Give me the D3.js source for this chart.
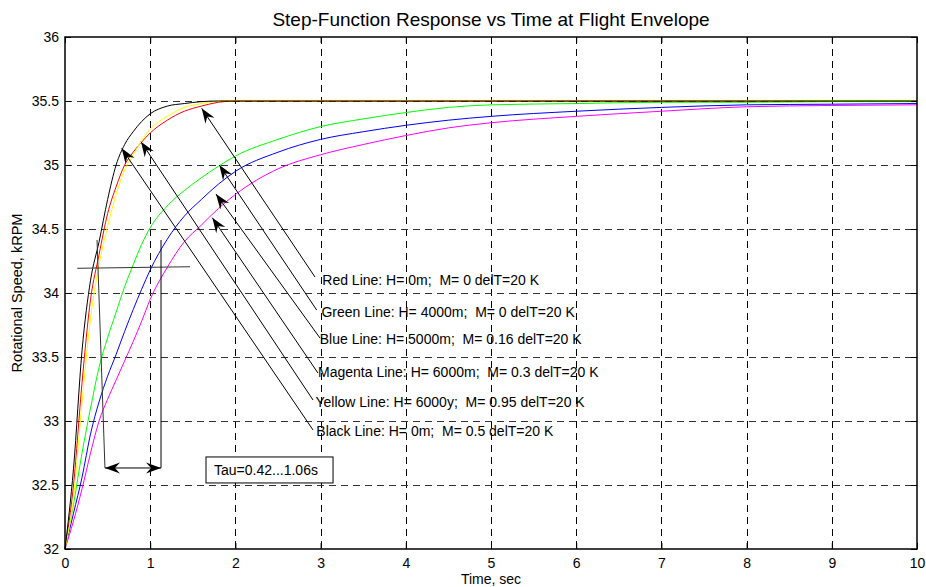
<!DOCTYPE html>
<html lang="en">
<head>
<meta charset="UTF-8">
<title>Step-Function Response</title>
<script src="https://cdn.jsdelivr.net/npm/d3@7"></script>
<style>
  body { margin: 0; background: #fff; }
  text { font-family: "Liberation Sans", Arial, sans-serif; }
</style>
</head>
<body>
<div id="chart"></div>
<script>
// time samples (sec)
var timeSec = [0, 0.1, 0.2, 0.3, 0.4, 0.5, 0.6, 0.7, 0.8, 0.9, 1.0, 1.2, 1.4, 1.6, 1.8, 2.0,
               2.5, 3, 3.5, 4, 4.5, 5, 6, 7, 8, 9, 10];

// rotational speed, kRPM
var redLine     = [32, 32.5, 33.3, 33.95, 34.3, 34.62, 34.83, 35.0, 35.1, 35.18, 35.25, 35.35, 35.42, 35.46, 35.49, 35.5,
                   35.5, 35.5, 35.5, 35.5, 35.5, 35.5, 35.5, 35.5, 35.5, 35.5, 35.5];
var greenLine   = [32, 32.35, 32.75, 33.1, 33.42, 33.65, 33.85, 34.05, 34.22, 34.38, 34.51, 34.68, 34.8, 34.9, 34.99, 35.07,
                   35.2, 35.3, 35.36, 35.41, 35.45, 35.47, 35.48, 35.49, 35.49, 35.495, 35.495];
var blueLine    = [32, 32.28, 32.56, 32.9, 33.15, 33.35, 33.52, 33.7, 33.87, 34.03, 34.18, 34.42, 34.6, 34.73, 34.85, 34.95,
                   35.1, 35.2, 35.26, 35.31, 35.35, 35.38, 35.42, 35.45, 35.47, 35.475, 35.48];
var magentaLine = [32, 32.22, 32.47, 32.75, 33.0, 33.17, 33.32, 33.47, 33.62, 33.78, 33.95, 34.2, 34.4, 34.53, 34.66, 34.77,
                   34.97, 35.08, 35.16, 35.23, 35.29, 35.33, 35.38, 35.42, 35.455, 35.465, 35.47];
var yellowLine  = [32, 32.4, 33.15, 33.8, 34.22, 34.52, 34.77, 34.96, 35.08, 35.19, 35.28, 35.38, 35.45, 35.48, 35.5, 35.505,
                   35.505, 35.505, 35.505, 35.505, 35.505, 35.505, 35.505, 35.505, 35.505, 35.505, 35.505];
var blackLine   = [32, 32.63, 33.55, 34.1, 34.4, 34.73, 35.0, 35.16, 35.26, 35.34, 35.4, 35.46, 35.48, 35.495, 35.5, 35.5,
                   35.5, 35.5, 35.5, 35.5, 35.5, 35.5, 35.5, 35.5, 35.5, 35.5, 35.5];

var seriesNames  = ["Red", "Green", "Blue", "Magenta", "Yellow", "Black"];
var seriesValues = [redLine, greenLine, blueLine, magentaLine, yellowLine, blackLine];
var seriesColors = ["#ff0000", "#00ff00", "#0000ff", "#ff00ff", "#ffff00", "#000000"];

var xTicks = [0, 1, 2, 3, 4, 5, 6, 7, 8, 9, 10];
var yTicks = [32, 32.5, 33, 33.5, 34, 34.5, 35, 35.5, 36];

// annotation labels and arrows (data units)
var labelTexts = [
    "Red Line: H= 0m;  M= 0 delT=20 K",
    "Green Line: H= 4000m;  M= 0 delT=20 K",
    "Blue Line: H= 5000m;  M= 0.16 delT=20 K",
    "Magenta Line: H= 6000m;  M= 0.3 delT=20 K",
    "Yellow Line: H= 6000y;  M= 0.95 delT=20 K",
    "Black Line: H= 0m;  M= 0.5 delT=20 K"
];
var labelPos  = [[3.02, 34.06], [3.01, 33.81], [2.99, 33.60], [2.97, 33.34], [2.94, 33.11], [2.95, 32.88]];
var arrowTail = [[2.934, 34.125], [2.954, 33.867], [2.993, 33.648], [2.969, 33.375], [2.911, 33.164], [2.911, 32.930]];
var arrowTip  = [[1.604, 35.443], [1.811, 35.0], [1.772, 34.773], [1.729, 34.588], [0.892, 35.182], [0.665, 35.13]];

// tau marker
var tauHLine  = [[0.144, 34.193], [1.467, 34.205]];
var tauLeft   = [[0.376, 34.414], [0.469, 32.633]];
var tauRight  = [[1.127, 34.414], [1.127, 32.633]];
var tauArrow  = [[0.469, 32.633], [1.127, 32.633]];
var tauBox    = [[1.655, 32.719], [3.146, 32.516]];
var tauText   = "Tau=0.42...1.06s";

var width = 926, height = 587;
var margin = {top: 37, right: 9, bottom: 38, left: 65};

var svg = d3.select("#chart").append("svg")
    .attr("width", width)
    .attr("height", height);

var x = d3.scaleLinear().domain([0, 10]).range([margin.left, width - margin.right]);
var y = d3.scaleLinear().domain([32, 36]).range([height - margin.bottom, margin.top]);

var x0 = x(0), x1 = x(10), y0 = y(32), y1 = y(36);

// grid
var grid = svg.append("g");
grid.selectAll(".gx")
    .data(xTicks.slice(1, -1))
    .enter().append("line")
    .attr("x1", function(d){ return Math.round(x(d)) + 0.5; })
    .attr("x2", function(d){ return Math.round(x(d)) + 0.5; })
    .attr("y1", y1).attr("y2", y0)
    .attr("stroke", "#000").attr("stroke-width", 1)
    .attr("stroke-dasharray", "7,5");
grid.selectAll(".gy")
    .data(yTicks.slice(1, -1))
    .enter().append("line")
    .attr("x1", x0).attr("x2", x1)
    .attr("y1", function(d){ return Math.round(y(d)) + 0.5; })
    .attr("y2", function(d){ return Math.round(y(d)) + 0.5; })
    .attr("stroke", "#333").attr("stroke-width", 1)
    .attr("stroke-dasharray", "7,5");

// curves
var line = d3.line()
    .x(function(d){ return x(d[0]); })
    .y(function(d){ return y(d[1]); })
    .curve(d3.curveMonotoneX);

svg.append("g").selectAll("path")
    .data(seriesValues)
    .enter().append("path")
    .attr("d", function(vals){
        return line(vals.map(function(v, i){ return [timeSec[i], v]; }));
    })
    .attr("fill", "none")
    .attr("stroke", function(d, i){ return seriesColors[i]; })
    .attr("stroke-width", 1);

// axes (MATLAB style: ticks inside, box)
var fmt = function(d){ return String(d); };
var xAxis = d3.axisBottom(x).tickValues(xTicks).tickSize(-6).tickPadding(9).tickFormat(fmt);
var yAxis = d3.axisLeft(y).tickValues(yTicks).tickSize(-6).tickPadding(6).tickFormat(fmt);
var xAxisTop = d3.axisTop(x).tickValues(xTicks).tickSize(-6).tickFormat("");
var yAxisRight = d3.axisRight(y).tickValues(yTicks).tickSize(-6).tickFormat("");

function styleAxis(g) {
    g.select(".domain").remove();
    g.selectAll("line").attr("stroke", "#000");
    g.selectAll("text").attr("font-size", 14).attr("fill", "#000")
        .attr("font-family", "'Liberation Sans', Arial, sans-serif");
}
svg.append("g").attr("transform", "translate(0," + y0 + ")").call(xAxis).call(styleAxis);
svg.append("g").attr("transform", "translate(" + x0 + ",0)").call(yAxis).call(styleAxis);
svg.append("g").attr("transform", "translate(0," + y1 + ")").call(xAxisTop).call(styleAxis);
svg.append("g").attr("transform", "translate(" + x1 + ",0)").call(yAxisRight).call(styleAxis);

svg.append("rect")
    .attr("x", x0).attr("y", y1)
    .attr("width", x1 - x0).attr("height", y0 - y1)
    .attr("fill", "none").attr("stroke", "#000").attr("stroke-width", 1.5);

// arrows
var ann = svg.append("g");
function arrowHead(tip, tail) {
    var px = x(tip[0]), py = y(tip[1]);
    var ang = Math.atan2(py - y(tail[1]), px - x(tail[0])) * 180 / Math.PI;
    ann.append("path")
        .attr("d", "M0,0 L-15,-5.5 L-10,0 L-15,5.5 Z")
        .attr("transform", "translate(" + px + "," + py + ") rotate(" + ang + ")")
        .attr("fill", "#000");
}
arrowTail.forEach(function(t, i){
    ann.append("line")
        .attr("x1", x(t[0])).attr("y1", y(t[1]))
        .attr("x2", x(arrowTip[i][0])).attr("y2", y(arrowTip[i][1]))
        .attr("stroke", "#000").attr("stroke-width", 1);
    arrowHead(arrowTip[i], t);
});

ann.selectAll(".lbl")
    .data(labelTexts)
    .enter().append("text")
    .attr("x", function(d, i){ return x(labelPos[i][0]); })
    .attr("y", function(d, i){ return y(labelPos[i][1]); })
    .attr("font-size", 14)
    .attr("xml:space", "preserve")
    .style("white-space", "pre")
    .text(function(d){ return d; });

// tau marker
[tauHLine, tauLeft, tauRight, tauArrow].forEach(function(seg, i){
    ann.append("line")
        .attr("x1", x(seg[0][0])).attr("y1", y(seg[0][1]))
        .attr("x2", x(seg[1][0])).attr("y2", y(seg[1][1]))
        .attr("stroke", i == 0 || i == 1 ? "#333" : "#000").attr("stroke-width", 1);
});
arrowHead(tauArrow[0], tauArrow[1]);
arrowHead(tauArrow[1], tauArrow[0]);

ann.append("rect")
    .attr("x", x(tauBox[0][0])).attr("y", y(tauBox[0][1]))
    .attr("width", x(tauBox[1][0]) - x(tauBox[0][0]))
    .attr("height", y(tauBox[1][1]) - y(tauBox[0][1]))
    .attr("fill", "#fff").attr("stroke", "#000").attr("stroke-width", 1);
ann.append("text")
    .attr("x", x(tauBox[0][0]) + 8)
    .attr("y", y(tauBox[0][1]) + 18)
    .attr("font-size", 14)
    .text(tauText);

// titles
svg.append("text")
    .attr("x", (x0 + x1) / 2).attr("y", 26)
    .attr("text-anchor", "middle").attr("font-size", 19)
    .text("Step-Function Response vs Time at Flight Envelope");
svg.append("text")
    .attr("x", (x0 + x1) / 2).attr("y", 584)
    .attr("text-anchor", "middle").attr("font-size", 14)
    .text("Time, sec");
svg.append("text")
    .attr("transform", "translate(22," + ((y0 + y1) / 2) + ") rotate(-90)")
    .attr("text-anchor", "middle").attr("font-size", 14.5)
    .text("Rotational Speed, kRPM");
</script>
</body>
</html>
